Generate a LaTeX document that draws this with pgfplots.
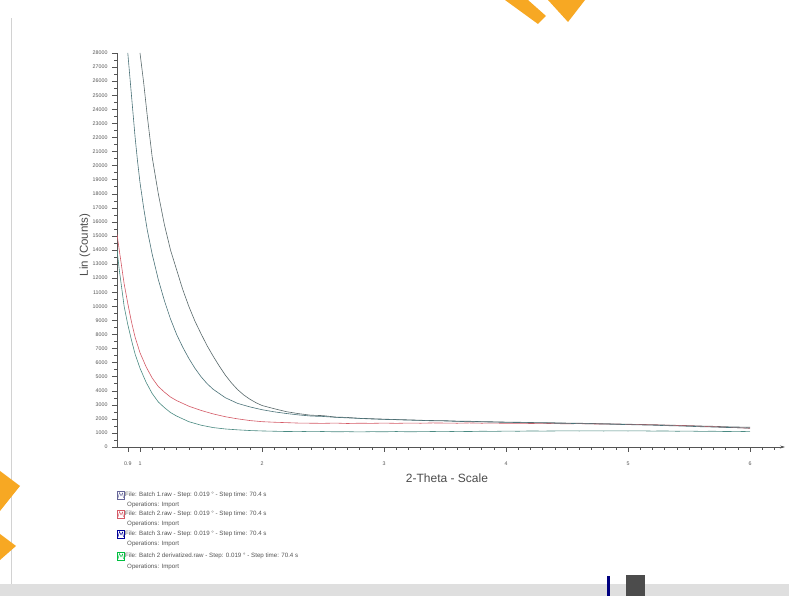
\documentclass[border=0pt]{standalone}
\usepackage{pgfplots}
\pgfplotsset{compat=1.18}
\usepackage{fontspec}
\setmainfont{Liberation Sans}
\usetikzlibrary{arrows.meta}
\definecolor{cA}{HTML}{5A6A6C}
\definecolor{cB}{HTML}{4A7278}
\definecolor{cR}{HTML}{D45A66}
\definecolor{cL}{HTML}{4A8A82}
\definecolor{txt}{HTML}{555555}
\definecolor{wm}{HTML}{F7A823}

\pgfplotstableread{
x y
1.00 28000
1.03 25900
1.06 23500
1.10 20600
1.15 18000
1.20 15800
1.25 14000
1.30 12600
1.35 11200
1.40 10000
1.45 8950
1.50 8050
1.55 7200
1.60 6450
1.65 5750
1.70 5100
1.75 4550
1.80 4080
1.85 3700
1.90 3400
1.95 3150
2.00 2950
2.10 2720
2.20 2510
2.30 2370
2.40 2260
2.50 2230
2.60 2130
2.70 2100
2.80 2040
2.90 2010
3.00 1980
3.10 1950
3.20 1930
3.30 1900
3.40 1880
3.50 1870
3.60 1840
3.70 1830
3.80 1800
3.90 1790
4.00 1770
4.10 1760
4.20 1740
4.30 1730
4.40 1720
4.50 1700
4.60 1690
4.70 1670
4.80 1660
4.90 1640
5.00 1620
5.10 1600
5.20 1590
5.30 1560
5.40 1540
5.50 1520
5.60 1490
5.70 1470
5.80 1440
5.90 1420
6.00 1400
}\batchA

\pgfplotstableread{
x y
0.90 28000
0.92 26000
0.94 24000
0.96 22000
0.98 20300
1.00 18800
1.03 17000
1.06 15400
1.10 13700
1.15 11900
1.20 10400
1.25 9100
1.30 8000
1.35 7100
1.40 6300
1.45 5600
1.50 5000
1.55 4500
1.60 4100
1.70 3500
1.80 3100
1.90 2850
2.00 2650
2.10 2500
2.20 2380
2.30 2280
2.40 2200
2.50 2170
2.60 2110
2.70 2070
2.80 2030
2.90 1990
3.00 1960
3.10 1940
3.20 1910
3.30 1890
3.40 1860
3.50 1850
3.60 1820
3.70 1800
3.80 1790
3.90 1770
4.00 1750
4.10 1740
4.20 1720
4.30 1710
4.40 1690
4.50 1680
4.60 1660
4.70 1650
4.80 1630
4.90 1610
5.00 1590
5.10 1570
5.20 1550
5.30 1520
5.40 1500
5.50 1470
5.60 1440
5.70 1420
5.80 1390
5.90 1370
6.00 1340
}\batchB

\pgfplotstableread{
x y
0.812 15100
0.83 14000
0.85 12800
0.87 11600
0.90 10200
0.93 8900
0.96 7800
1.00 6700
1.05 5700
1.10 4900
1.15 4300
1.20 3900
1.25 3550
1.30 3300
1.40 2900
1.50 2600
1.60 2350
1.70 2150
1.80 2000
1.90 1880
2.00 1800
2.10 1760
2.20 1730
2.30 1700
2.40 1690
2.50 1680
2.60 1700
2.70 1670
2.80 1690
2.90 1680
3.00 1700
3.10 1680
3.20 1700
3.30 1690
3.40 1710
3.50 1700
3.60 1690
3.70 1710
3.80 1690
3.90 1700
4.00 1680
4.10 1690
4.20 1670
4.30 1680
4.40 1660
4.50 1650
4.60 1660
4.70 1640
4.80 1630
4.90 1620
5.00 1600
5.10 1590
5.20 1570
5.30 1550
5.40 1530
5.50 1500
5.60 1470
5.70 1440
5.80 1400
5.90 1370
6.00 1330
}\batchR

\pgfplotstableread{
x y
0.812 14000
0.83 12600
0.85 11300
0.87 10000
0.90 8700
0.93 7600
0.96 6600
1.00 5600
1.05 4600
1.10 3800
1.15 3200
1.20 2800
1.25 2450
1.30 2200
1.40 1800
1.50 1550
1.60 1380
1.70 1280
1.80 1220
1.90 1170
2.00 1140
2.10 1120
2.20 1100
2.30 1110
2.40 1090
2.50 1100
2.60 1080
2.70 1090
2.80 1070
2.90 1090
3.00 1080
3.10 1100
3.20 1080
3.30 1090
3.40 1100
3.50 1090
3.60 1110
3.70 1100
3.80 1120
3.90 1110
4.00 1130
4.10 1120
4.20 1140
4.30 1130
4.40 1140
4.50 1150
4.60 1140
4.70 1150
4.80 1140
4.90 1150
5.00 1140
5.10 1150
5.20 1130
5.30 1140
5.40 1120
5.50 1130
5.60 1110
5.70 1120
5.80 1100
5.90 1110
6.00 1090
}\batchL

\begin{document}
\begin{tikzpicture}
% page
\fill[white] (0pt,0pt) rectangle (789pt,596pt);
\fill[gray!25] (0pt,0pt) rectangle (789pt,12pt);
\draw[gray!35, line width=1pt] (11pt,12pt) -- (11pt,578pt);
\fill[blue!50!black] (607pt,0pt) rectangle (610pt,20pt);
\fill[black!70] (626pt,0pt) rectangle (645pt,21pt);
% watermark fragments
\fill[wm] (505pt,596pt) -- (528pt,596pt) -- (546pt,580pt) -- (538pt,572pt) -- cycle;
\fill[wm] (548pt,596pt) -- (585pt,596pt) -- (568pt,574pt) -- cycle;
\fill[wm] (0pt,125pt) -- (20pt,110pt) -- (0pt,85pt) -- cycle;
\fill[wm] (0pt,62pt) -- (16pt,50pt) -- (0pt,36pt) -- cycle;

\begin{axis}[
  at={(117pt,149pt)}, anchor=south west,
  scale only axis, width=668pt, height=394pt,
  xmin=0.8115, xmax=6.287, ymin=0, ymax=28000,
  axis lines=left,
  x axis line style={-{Stealth[length=5pt,width=3pt]}, draw=txt, line width=0.6pt},
  y axis line style={-, draw=txt, line width=0.6pt},
  xtick={0.9,1,2,3,4,5,6},
  xticklabels={0.9,1,2,3,4,5,6},
  minor xtick={1.1,1.2,...,6.25},
  ytick={0,1000,...,28000},
  minor ytick={500,1500,...,27500},
  scaled y ticks=false,
  tick align=outside,
  major tick length=5pt, minor tick length=3pt,
  tick style={draw=txt, line width=0.4pt},
  /pgf/number format/1000 sep={},
  /pgf/number format/assume math mode=true,
  tick label style={font=\fontsize{5.3}{6}\selectfont, text=txt},
  xticklabel style={yshift=-6pt},
  yticklabel style={xshift=-1pt},
  xlabel={2-Theta - Scale},
  xlabel style={at={(axis description cs:0.494,-0.0787)}, anchor=center, font=\fontsize{12}{14}\selectfont, text=txt!90!black},
  ylabel={Lin (Counts)},
  ylabel style={at={(axis description cs:-0.0479,0.513)}, anchor=center, rotate=0, font=\fontsize{11.5}{13}\selectfont, text=txt!90!black},
  clip=true,
]
\addplot[cA, line width=0.6pt] table[x=x,y=y] {\batchA};
\addplot[cR, line width=0.6pt] table[x=x,y=y] {\batchR};
\addplot[cL, line width=0.6pt] table[x=x,y=y] {\batchL};
\addplot[cB, line width=0.6pt] table[x=x,y=y] {\batchB};
\end{axis}

% legend
\def\icon#1#2{%
  \draw[#1, line width=0.5pt] (117pt,#2pt-4pt) rectangle (124pt,#2pt+4pt);
  \draw[#1, line width=0.4pt] (118pt,#2pt-3pt) -- (119.5pt,#2pt+2.5pt) -- (121pt,#2pt-1pt) -- (122.5pt,#2pt+2pt) -- (123.5pt,#2pt-3pt);}
\icon{gray!80!blue}{101}
\icon{cR}{82}
\icon{blue!60!black}{62}
\icon{green!50!teal}{40}
\begin{scope}[every node/.style={anchor=west, inner sep=0pt, font=\fontsize{6.2}{7}\selectfont, text=txt}]
\node at (125pt,101pt) {File: Batch 1.raw - Step: 0.019 ° - Step time: 70.4 s};
\node at (127pt,91pt) {Operations: Import};
\node at (125pt,82pt) {File: Batch 2.raw - Step: 0.019 ° - Step time: 70.4 s};
\node at (127pt,72pt) {Operations: Import};
\node at (125pt,62pt) {File: Batch 3.raw - Step: 0.019 ° - Step time: 70.4 s};
\node at (127pt,52pt) {Operations: Import};
\node at (125pt,40pt) {File: Batch 2 derivatized.raw - Step: 0.019 ° - Step time: 70.4 s};
\node at (127pt,29pt) {Operations: Import};
\end{scope}
\useasboundingbox (0pt,0pt) rectangle (789pt,596pt);
\end{tikzpicture}
\end{document}
